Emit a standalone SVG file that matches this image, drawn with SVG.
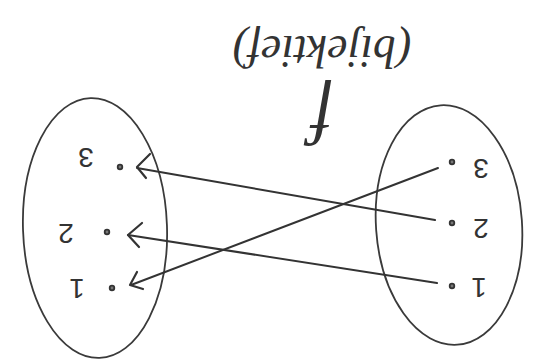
<svg xmlns="http://www.w3.org/2000/svg" width="541" height="359" viewBox="0 0 541 359">
  <style>
    .set { fill: none; stroke: #3a3a3a; stroke-width: 1.8; }
    .edge { fill: none; stroke: #333; stroke-width: 2; stroke-linecap: round; }
    .head { fill: none; stroke: #333; stroke-width: 2.2; stroke-linecap: round; stroke-linejoin: round; }
    .dot { fill: #777; stroke: #333; stroke-width: 1.8; }
    .lbl { font-family: "Liberation Sans", "DejaVu Sans", sans-serif; font-size: 28px; fill: #333; text-anchor: middle; }
    .title { font-family: "Liberation Serif", "DejaVu Serif", serif; fill: #333; text-anchor: middle; }
  </style>
  <rect width="541" height="359" fill="#fff"/>

  <g id="title">
    <text class="title" x="322" y="120" dy="0.35em" font-size="72" font-style="italic" transform="rotate(180 322 120)">f</text>
    <text class="title" x="322" y="52" dy="0.35em" font-size="46" font-style="italic" transform="rotate(180 322 52)">(bijektief)</text>
  </g>

  <g id="set-left">
    <ellipse class="set" cx="95" cy="228" rx="72" ry="130" transform="rotate(-2 95 228)"/>
  </g>
  <g id="set-right">
    <ellipse class="set" cx="449" cy="225" rx="73" ry="120" transform="rotate(-4 449 225)"/>
  </g>

  <g id="left-3">
    <circle class="dot" cx="120" cy="167" r="2.3"/>
    <text class="lbl" x="86" y="158" dy="0.35em" transform="rotate(180 86 158)">3</text>
  </g>
  <g id="left-2">
    <circle class="dot" cx="107" cy="232" r="2.3"/>
    <text class="lbl" x="66" y="234" dy="0.35em" transform="rotate(180 66 234)">2</text>
  </g>
  <g id="left-1">
    <circle class="dot" cx="112" cy="288" r="2.3"/>
    <text class="lbl" x="77" y="289" dy="0.35em" transform="rotate(180 77 289)">1</text>
  </g>

  <g id="right-3">
    <circle class="dot" cx="452" cy="162" r="2.3"/>
    <text class="lbl" x="481" y="169" dy="0.35em" transform="rotate(180 481 169)">3</text>
  </g>
  <g id="right-2">
    <circle class="dot" cx="452" cy="223" r="2.3"/>
    <text class="lbl" x="481" y="229" dy="0.35em" transform="rotate(180 481 229)">2</text>
  </g>
  <g id="right-1">
    <circle class="dot" cx="452" cy="286" r="2.3"/>
    <text class="lbl" x="479" y="288" dy="0.35em" transform="rotate(180 479 288)">1</text>
  </g>

  <g id="connectors">
    <path class="edge" d="M438 168 L131 285"/>
    <path class="edge" d="M435 220 L137 168"/>
    <path class="edge" d="M437 283 L128 235"/>
    <path class="head" d="M150 154 L137 167 L146 178"/>
    <path class="head" d="M142 223 L128 235 L139 247"/>
    <path class="head" d="M137 272 L130 285 L143 289"/>
  </g>
</svg>
